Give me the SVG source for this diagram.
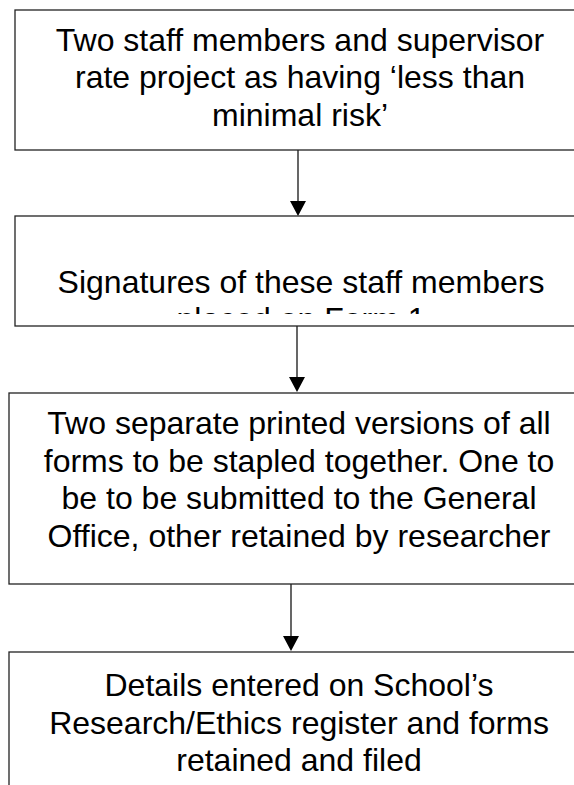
<svg xmlns="http://www.w3.org/2000/svg" width="574" height="785" viewBox="0 0 574 785">
<style>
.box{fill:#ffffff;stroke:#222222;stroke-width:1.3}
.lbl{font-family:"Liberation Sans",Arial,sans-serif;font-size:32px;fill:#000000;text-anchor:middle}
.conn{stroke:#000000;stroke-width:1.2;fill:none}
.head{fill:#000000}
</style>
<defs>
<clipPath id="clip2"><rect x="15" y="216" width="580" height="98"/></clipPath>
</defs>
<rect width="574" height="785" fill="#ffffff"/>
<g id="connectors">
<line class="conn" x1="298" y1="150" x2="298" y2="201"/>
<path class="head" d="M290,201 L306,201 L298,216 Z"/>
<line class="conn" x1="297" y1="326" x2="297" y2="377"/>
<path class="head" d="M289,377 L305,377 L297,392 Z"/>
<line class="conn" x1="291" y1="584" x2="291" y2="636"/>
<path class="head" d="M283,636 L299,636 L291,651 Z"/>
</g>
<g id="node1">
<rect class="box" x="15" y="10" width="575" height="140"/>
<text class="lbl" x="300" y="50.5">Two staff members and supervisor</text>
<text class="lbl" x="300" y="88">rate project as having ‘less than</text>
<text class="lbl" x="300" y="125.5">minimal risk’</text>
</g>
<g id="node2">
<rect class="box" x="15" y="216" width="575" height="110"/>
<g clip-path="url(#clip2)">
<text class="lbl" x="301" y="292.5">Signatures of these staff members</text>
<text class="lbl" x="301" y="330">placed on Form 1</text>
</g>
</g>
<g id="node3">
<rect class="box" x="9" y="393" width="585" height="191"/>
<text class="lbl" x="299" y="434">Two separate printed versions of all</text>
<text class="lbl" x="299" y="471.5">forms to be stapled together. One to</text>
<text class="lbl" x="299" y="509">be to be submitted to the General</text>
<text class="lbl" x="299" y="546.5">Office, other retained by researcher</text>
</g>
<g id="node4">
<rect class="box" x="9" y="652" width="585" height="160"/>
<text class="lbl" x="299" y="696">Details entered on School’s</text>
<text class="lbl" x="299" y="733.5">Research/Ethics register and forms</text>
<text class="lbl" x="299" y="771">retained and filed</text>
</g>
</svg>
